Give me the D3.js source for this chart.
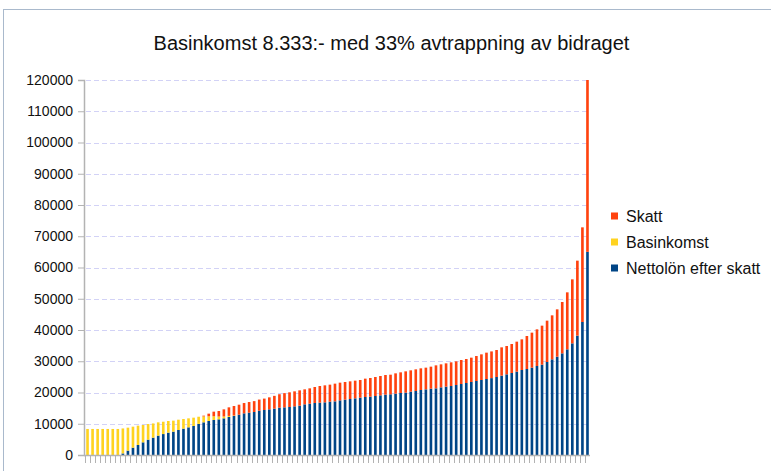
<!DOCTYPE html>
<html>
<head>
<meta charset="utf-8">
<script src="https://cdn.jsdelivr.net/npm/d3@7"></script>
<style>
  body { margin: 0; background: #fff; }
  svg { display: block; font-family: "Liberation Sans", Arial, sans-serif; }
</style>
</head>
<body>
<div id="chart"></div>
<script>
// Basinkomst 8.333:- med 33% avtrappning av bidraget
// stacked bars: nettolön (bottom), basinkomst, skatt (top)

// data
const categories = [
  1,2,3,4,5,6,7,8,9,10,11,12,13,14,15,16,17,18,19,20,
  21,22,23,24,25,26,27,28,29,30,31,32,33,34,35,36,37,38,39,40,
  41,42,43,44,45,46,47,48,49,50,51,52,53,54,55,56,57,58,59,60,
  61,62,63,64,65,66,67,68,69,70,71,72,73,74,75,76,77,78,79,80,
  81,82,83,84,85,86,87,88,89,90,91,92,93,94,95,96,97,98,99,100
];

const netto = [
  0,0,0,0,0,0,0,500,1400,2350,3200,4050,4900,5550,6200,6700,7150,7470,8000,8430,
  8850,9280,9950,10450,10880,11200,11410,11730,12160,12480,12900,13330,13550,13760,14190,14400,14610,14830,15150,15250,
  15360,15570,15790,16210,16430,16640,16750,16850,17070,17170,17490,17710,17920,18130,18350,18560,18670,18880,19090,19310,
  19420,19630,19840,19950,20270,20480,20800,21010,21220,21330,21650,21870,22080,22400,22720,23040,23360,23680,24000,24320,
  24600,24960,25390,25810,26240,26670,27200,27520,27950,28480,28910,29760,30610,31470,32530,33810,35730,38190,42560,65000
];

const basinkomst = [
  8333,8333,8333,8333,8333,8333,8333,8000,7350,6720,6200,5550,5000,4550,4250,3950,3730,3520,3300,3090,
  2880,2670,2300,1900,1500,1200,900,600,350,150,0,0,0,0,0,0,0,0,0,0,
  0,0,0,0,0,0,0,0,0,0,0,0,0,0,0,0,0,0,0,0,
  0,0,0,0,0,0,0,0,0,0,0,0,0,0,0,0,0,0,0,0,
  0,0,0,0,0,0,0,0,0,0,0,0,0,0,0,0,0,0,0,0
];

const skatt = [
  0,0,0,0,0,0,0,0,0,0,0,0,0,0,0,0,0,0,0,0,
  0,0,0,240,850,1470,1770,2280,2740,3050,3200,3300,3400,3480,3550,3650,3840,4100,4300,4550,
  4700,4800,4900,4800,4900,5120,5330,5440,5440,5660,5660,5650,5650,5660,5650,5870,5970,6080,6190,6290,
  6280,6500,6610,6820,6820,6930,6930,6940,7050,7360,7360,7460,7570,7570,7680,7680,7790,8000,8210,8430,
  8550,8640,9060,9070,9280,9600,9810,10560,11200,11730,12480,13230,14080,15140,16430,18240,20480,24000,30290,55000
];

const yTicks = [0,10000,20000,30000,40000,50000,60000,70000,80000,90000,100000,110000,120000];

const seriesKeys = ["netto", "basinkomst", "skatt"];
const seriesNames = { netto: "Nettolön efter skatt", basinkomst: "Basinkomst", skatt: "Skatt" };
const colors = { netto: "#004586", basinkomst: "#ffd320", skatt: "#ff420e" };

// rows for the stack
const rows = categories.map((c, i) => ({
  cat: c,
  netto: netto[i],
  basinkomst: basinkomst[i],
  skatt: skatt[i]
}));

// dimensions
const W = 771, H = 471;
const plot = { left: 85, right: 590, top: 80, bottom: 455 };

const svg = d3.select("#chart")
  .append("svg")
  .attr("width", W)
  .attr("height", H);

// outer frame
svg.append("rect")
  .attr("x", 3.5)
  .attr("y", 9.5)
  .attr("width", W + 10)
  .attr("height", H + 10)
  .attr("fill", "#fff")
  .attr("stroke", "#a9b9cc")
  .attr("stroke-width", 1);

// title
svg.append("text")
  .attr("x", 391.5)
  .attr("y", 50)
  .attr("text-anchor", "middle")
  .style("font-size", "20px")
  .attr("fill", "#111")
  .text("Basinkomst 8.333:- med 33% avtrappning av bidraget");

// scales
var xScale = d3.scaleBand()
  .domain(categories)
  .range([plot.left, plot.right])
  .paddingInner(0.48)
  .paddingOuter(0.24);

var yScale = d3.scaleLinear()
  .domain([0, 120000])
  .range([plot.bottom, plot.top]);

// grid lines
svg.append("g")
  .selectAll("line")
  .data(yTicks.filter(d => d > 0))
  .enter().append("line")
  .attr("x1", plot.left + 1)
  .attr("x2", plot.right)
  .attr("y1", d => Math.round(yScale(d)) + 0.5)
  .attr("y2", d => Math.round(yScale(d)) + 0.5)
  .attr("stroke", "#d2d2f6")
  .attr("stroke-width", 1)
  .attr("stroke-dasharray", "5,3");

// bars
const stacked = d3.stack().keys(seriesKeys)(rows);

svg.append("g")
  .selectAll("g")
  .data(stacked)
  .enter().append("g")
  .attr("fill", d => colors[d.key])
  .selectAll("rect")
  .data(d => d)
  .enter().append("rect")
  .attr("x", d => xScale(d.data.cat))
  .attr("width", xScale.bandwidth())
  .attr("y", d => yScale(d[1]))
  .attr("height", d => yScale(d[0]) - yScale(d[1]));

// y axis
const yAxis = svg.append("g")
  .attr("transform", "translate(" + (plot.left - 1) + ",0)")
  .call(d3.axisLeft(yScale).tickValues(yTicks).tickSize(6).tickPadding(5).tickFormat(d3.format("d")));

yAxis.select(".domain").attr("stroke", "#b3b3b3").attr("stroke-width", 1.5);
yAxis.selectAll(".tick line").attr("stroke", "#b3b3b3");
yAxis.selectAll(".tick text")
  .style("font-size", "14px")
  .style("font-family", "Liberation Sans, Arial, sans-serif")
  .attr("fill", "#111");

// x axis: line plus ticks between categories
svg.append("line")
  .attr("x1", plot.left - 1)
  .attr("x2", plot.right)
  .attr("y1", plot.bottom + 0.5)
  .attr("y2", plot.bottom + 0.5)
  .attr("stroke", "#b3b3b3")
  .attr("stroke-width", 1.5);

const step = xScale.step();
svg.append("g")
  .selectAll("line")
  .data(categories)
  .enter().append("line")
  .attr("x1", d => Math.round(xScale(d) - xScale.paddingInner() * step / 2) + 0.5)
  .attr("x2", d => Math.round(xScale(d) - xScale.paddingInner() * step / 2) + 0.5)
  .attr("y1", plot.bottom + 1)
  .attr("y2", plot.bottom + 8)
  .attr("stroke", "#b3b3b3");

// legend (reverse order)
const legendKeys = seriesKeys.slice().reverse();
const legend = svg.append("g")
  .selectAll("g")
  .data(legendKeys)
  .enter().append("g")
  .attr("transform", (d, i) => "translate(611," + (216 + i * 26) + ")");

legend.append("rect")
  .attr("x", 0)
  .attr("y", -3.5)
  .attr("width", 7)
  .attr("height", 7)
  .attr("fill", d => colors[d]);

legend.append("text")
  .attr("x", 15)
  .attr("y", 6)
  .style("font-size", "16px")
  .attr("fill", "#111")
  .text(d => seriesNames[d]);
</script>
</body>
</html>
